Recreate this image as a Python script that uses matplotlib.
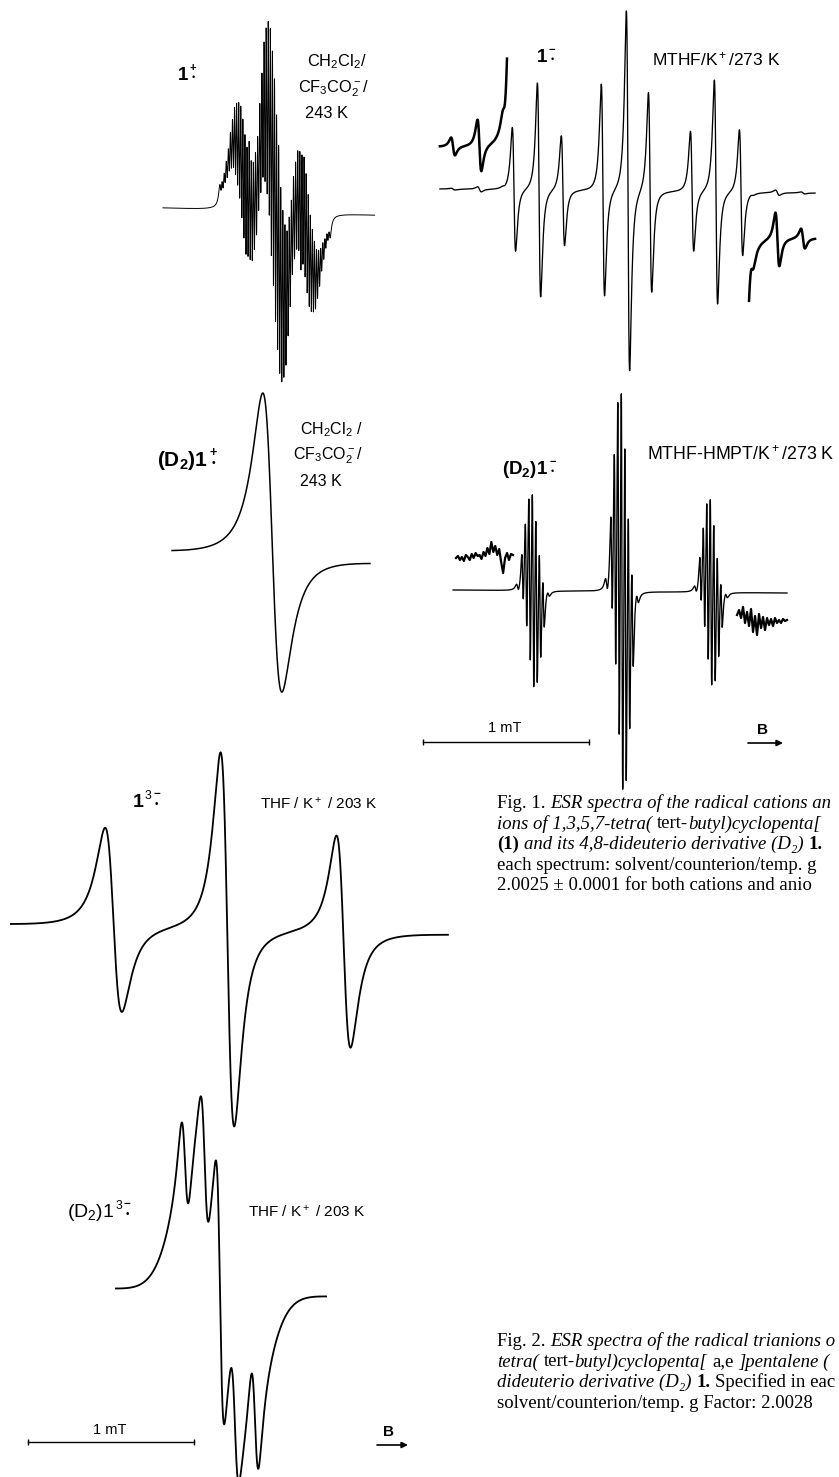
import numpy as np
import matplotlib
matplotlib.use("Agg")
import matplotlib.pyplot as plt

# ======================= DATA =======================
# field offsets in mT from each spectrum's centre; intensities in arbitrary units

# --- Fig.1  1(+.)  CH2Cl2/CF3CO2-/243 K ---
cat_sweep = [-0.675, 0.600]
cat_ring_pos = [-0.178, 0.0, 0.178]
cat_ring_int = [1.0, 2.0, 1.0]
cat_tbu_step = 0.0125
cat_tbu_int = [0.05, 0.08, 0.12, 0.18, 0.25, 0.35, 0.46, 0.59, 0.71, 0.82, 0.92, 0.98, 1.0,
               0.98, 0.92, 0.82, 0.71, 0.59, 0.46, 0.35, 0.25, 0.18, 0.12, 0.08, 0.05]
cat_width = 0.0099
cat_peak_up = 190.0
cat_peak_down = 170.0
cat_base = [0.0, -7.0]

# --- (D2)1(+.) ---
dcat_sweep = [-0.602, 0.590]
dcat_width = 0.099
dcat_amp = 149.0
dcat_abs = 20.0
dcat_base = [4.0, -5.0]

# --- 1(-.)  MTHF/K+/273 K ---
an_sweep = [-1.133, 1.127]
an_pos = [-0.687, -0.536, -0.392, -0.151, 0.0, 0.133, 0.386, 0.530, 0.681]
an_amp = [62.0, 107.0, 55.0, 106.0, 180.0, 100.0, 60.0, 112.0, 63.0]
an_width = 0.017
an_base = [2.0, -2.0]
an_sat_pos = [-1.054, -0.895, -0.747, 0.747, 0.900, 1.054]
an_sat_amp = [0.9, 2.6, 0.9, 0.9, 2.7, 1.0]
an_sat_width = 0.02
an_gain = 10.0
an_inset_l = [-1.133, -0.729]
an_inset_r = [0.729, 1.127]

# --- (D2)1(-.)  MTHF-HMPT/K+/273 K ---
dan_sweep = [-1.018, 0.994]
dan_grp_pos = [-0.536, 0.0, 0.536]
dan_grp_amp = [114.0, 235.0, 110.0]
dan_sub_step = 0.021
dan_sub_int = [0.25, 0.55, 0.85, 1.0, 0.85, 0.55, 0.25]
dan_width = 0.0085
dan_sat_pos = [-0.629, -0.443, -0.093, 0.093, 0.443, 0.629]
dan_sat_amp = [4.0, 3.0, 8.0, 6.0, 4.0, 3.0]
dan_sat_width = 0.012
dan_base = [1.0, -2.0]
dan_noise_l_sweep = [-1.000, -0.657]
dan_noise_l = [0, 2, -2, 1, -3, 3, 1, -2, 4, 0, 5, 2, 3, -1, 6, 2, 10, 4, 16, 6,
               12, 3, 9, -4, -15, 0, 5, -2, 4, 3]
dan_noise_r_sweep = [0.693, 0.994]
dan_noise_r = [5, 10, 2, 13, -3, 8, -6, 11, -12, 4, -15, 6, -8, 3, -10, 2, -5, 1,
               -6, 2, -3, 0, -3, 1, -1, 0]

# --- Fig.2  1(3-.)  THF/K+/203 K ---
tri_sweep = [-1.305, 1.328]
tri_pos = [-0.688, 0.0, 0.700]
tri_amp = [92.0, 187.0, 106.0]
tri_width = [0.087, 0.071, 0.073]
tri_abs = [9.0, -13.0, -12.0]
tri_base = [4.0, -5.0]

# --- (D2)1(3-.) ---
dtri_sweep = [-0.627, 0.639]
dtri_pos = [-0.211, -0.093, 0.0, 0.090, 0.211]
dtri_amp = [55.0, 60.0, 110.0, 55.0, 62.0]
dtri_width = 0.039
dtri_env_amp = 140.0
dtri_env_sigma = 0.15
dtri_base = [3.0, -4.0]

scale_bar_mT = 1.0

# ======================= helpers =======================
W, H = 839, 1477
PX_PER_MT = 166.0
DMAX = 3 * np.sqrt(3) / 16

plt.rcParams['mathtext.fontset'] = 'custom'
plt.rcParams['mathtext.rm'] = 'Liberation Sans'
plt.rcParams['mathtext.it'] = 'Liberation Sans:italic'
plt.rcParams['mathtext.bf'] = 'Liberation Sans:bold'
SANS = ['Liberation Sans', 'DejaVu Sans']
SERIF = ['Liberation Serif', 'DejaVu Serif']

fig = plt.figure(figsize=(W / 100, H / 100), dpi=100)
fig.patch.set_facecolor('white')
renderer = fig.canvas.get_renderer()

tax = fig.add_axes([0, 0, 1, 1])
tax.set_xlim(0, W)
tax.set_ylim(H, 0)
tax.axis('off')


def dlor(B, B0, w):
    u = (B - B0) / w
    return -u / (1 + u ** 2) ** 2 / DMAX


def alor(B, B0, w):
    u = (B - B0) / w
    return 1.0 / (1 + u ** 2)


def dgauss(B, B0, s):
    u = (B - B0) / s
    return -u * np.exp(-(u ** 2 - 1) / 2)


def field_axes(center_px, base_px):
    ax = fig.add_axes([0, 0, 1, 1])
    ax.set_xlim(-center_px / PX_PER_MT, (W - center_px) / PX_PER_MT)
    ax.set_ylim(-(H - base_px), base_px)
    ax.axis('off')
    ax.patch.set_alpha(0)
    return ax


def baseline(B, sweep, base):
    return np.interp(B, sweep, base)


def deriv_sum(B, pos, amp, width):
    y = np.zeros_like(B)
    ws = width if np.ndim(width) else [width] * len(pos)
    for p, a, w in zip(pos, amp, ws):
        y += a * dlor(B, p, w)
    return y


LW = 0.95

# ---- 1(+.) ----
ax = field_axes(275, 208)
B = np.linspace(cat_sweep[0], cat_sweep[1], 14000)
raw_d = np.zeros_like(B)
raw_a = np.zeros_like(B)
nt = len(cat_tbu_int)
for rp, ri in zip(cat_ring_pos, cat_ring_int):
    for k, ti in enumerate(cat_tbu_int):
        p = rp + (k - (nt - 1) / 2) * cat_tbu_step
        raw_d += ri * ti * dlor(B, p, cat_width)
        raw_a += ri * ti * alor(B, p, cat_width)
raw_a *= raw_d.max() / raw_a.max()
lo, hi = 0.0, 0.5
for _ in range(40):   # phase admixture giving the observed up/down ratio
    ph = 0.5 * (lo + hi)
    yy = raw_d + ph * raw_a
    if yy.max() / -yy.min() < cat_peak_up / cat_peak_down:
        lo = ph
    else:
        hi = ph
yy = raw_d + 0.5 * (lo + hi) * raw_a
y = yy / yy.max() * cat_peak_up + baseline(B, cat_sweep, cat_base)
ax.plot(B, y, color='black', lw=0.7)

# ---- (D2)1(+.) ----
ax = field_axes(272, 557)
B = np.linspace(dcat_sweep[0], dcat_sweep[1], 3000)
y = dcat_amp * dlor(B, 0.0, dcat_width) + dcat_abs * alor(B, 0.0, dcat_width) \
    + baseline(B, dcat_sweep, dcat_base)
ax.plot(B, y, color='black', lw=1.1)

# ---- 1(-.) ----
ax = field_axes(628, 191)


def an_spec(B):
    return deriv_sum(B, an_pos, an_amp, an_width) + \
        deriv_sum(B, an_sat_pos, an_sat_amp, an_sat_width)


B = np.linspace(an_sweep[0], an_sweep[1], 12000)
ax.plot(B, an_spec(B) + baseline(B, an_sweep, an_base), color='black', lw=LW)
Bl = np.linspace(an_inset_l[0], an_inset_l[1], 1500)
ax.plot(Bl, an_gain * an_spec(Bl) + 44, color='black', lw=1.8)
Br = np.linspace(an_inset_r[0], an_inset_r[1], 1500)
ax.plot(Br, an_gain * an_spec(Br) - 47, color='black', lw=1.8)

# ---- (D2)1(-.) ----
ax_dan = field_axes(622, 591)
B = np.linspace(dan_sweep[0], dan_sweep[1], 16000)
y = np.zeros_like(B)
ns = len(dan_sub_int)
for gp, ga in zip(dan_grp_pos, dan_grp_amp):
    for k, si in enumerate(dan_sub_int):
        y += ga * si * dlor(B, gp + (k - (ns - 1) / 2) * dan_sub_step, dan_width)
y += deriv_sum(B, dan_sat_pos, dan_sat_amp, dan_sat_width)
ax_dan.plot(B, y + baseline(B, dan_sweep, dan_base), color='black', lw=LW)
Bn = np.linspace(dan_noise_l_sweep[0], dan_noise_l_sweep[1], len(dan_noise_l))
ax_dan.plot(Bn, np.array(dan_noise_l) + 33, color='black', lw=1.6)
Bn = np.linspace(dan_noise_r_sweep[0], dan_noise_r_sweep[1], len(dan_noise_r))
ax_dan.plot(Bn, np.array(dan_noise_r) - 29, color='black', lw=1.6)
# scale bar Fig.1
x0 = -1.199
ax_dan.plot([x0, x0 + scale_bar_mT], [-151, -151], color='black', lw=1.0)
ax_dan.plot([x0, x0 + scale_bar_mT], [-151, -151], ls='none', marker='|',
            ms=5, mew=1.0, color='black')

# ---- 1(3-.) ----
ax = field_axes(227.5, 929)
B = np.linspace(tri_sweep[0], tri_sweep[1], 6000)
y = deriv_sum(B, tri_pos, tri_amp, tri_width)
for p, c, w in zip(tri_pos, tri_abs, tri_width):
    y += c * alor(B, p, w)
ax.plot(B, y + baseline(B, tri_sweep, tri_base), color='black', lw=1.3)

# ---- (D2)1(3-.) ----
ax_dt = field_axes(220, 1292)
B = np.linspace(dtri_sweep[0], dtri_sweep[1], 5000)
y = deriv_sum(B, dtri_pos, dtri_amp, dtri_width) + \
    dtri_env_amp * dgauss(B, 0.0, dtri_env_sigma)
ax_dt.plot(B, y + baseline(B, dtri_sweep, dtri_base), color='black', lw=1.3)
x0 = -1.157
ax_dt.plot([x0, x0 + scale_bar_mT], [-150, -150], color='black', lw=1.0)
ax_dt.plot([x0, x0 + scale_bar_mT], [-150, -150], ls='none', marker='|',
           ms=5, mew=1.0, color='black')

# ======================= text =======================


def twidth(t):
    return t.get_window_extent(renderer).width


def ion_label(x, y, main, charge, three=False, size=15, weight='bold'):
    t = tax.text(x, y, main, fontsize=size, fontweight=weight, family=SANS,
                 va='baseline', ha='left')
    xx = x + twidth(t) + 1
    em = size * 100 / 72
    if three:
        t3 = tax.text(xx, y - 0.42 * em, '3', fontsize=size * 0.62, family=SANS,
                      va='baseline', ha='left')
        xx += twidth(t3) + 1
    cx = xx + 0.2 * em
    tax.text(cx, y - 0.5 * em, charge, fontsize=size * 0.6, fontweight='bold',
             family=SANS, ha='center', va='baseline')
    tax.text(cx, y - 0.02 * em, '\u2022', fontsize=size * 0.5, family=SANS,
             ha='center', va='baseline')


ion_label(178, 80, '1', '+', size=13.5)
ion_label(157, 466, r'(D$_\mathbf{2}$)1', '+', size=15)
ion_label(537, 62, '1', '\u2212', size=13.5)
ion_label(502, 474, r'(D$_\mathbf{2}$)1', '\u2212', size=13.5)
ion_label(133, 807, '1', '\u2212', three=True, size=14)
ion_label(67, 1217, r'(D$_\mathrm{2}$)1', '\u2212', three=True, size=14, weight='normal')

for (x, yy, s) in [(307, 62, r'CH$_2$Cl$_2$/'), (298, 89, r'CF$_3$CO$_2^-$/'),
                   (305, 114, '243 K')]:
    tax.text(x, yy, s, fontsize=11.8, family=SANS, va='center', ha='left')
for (x, yy, s) in [(300, 430, r'CH$_2$Cl$_2$ /'), (293, 456, r'CF$_3$CO$_2^-$/'),
                   (300, 482, '243 K')]:
    tax.text(x, yy, s, fontsize=11.5, family=SANS, va='center', ha='left')
tax.text(652, 59, r'MTHF/K$^+$/273 K', fontsize=12.5, family=SANS, va='center')
tax.text(647, 455, r'MTHF-HMPT/K$^+$/273 K', fontsize=12.8, family=SANS, va='center')
tax.text(260, 804, r'THF / K$^+$ / 203 K', fontsize=11, family=SANS, va='center')
tax.text(248, 1212, r'THF / K$^+$ / 203 K', fontsize=11, family=SANS, va='center')

# scale-bar labels and field arrows
tax.text(505, 728, '1 mT', fontsize=10.5, family=SANS, ha='center', va='center')
tax.text(110, 1430, '1 mT', fontsize=10.5, family=SANS, ha='center', va='center')
for (xa, xb, ya, xt) in [(748, 783, 743, 763), (377, 408, 1445, 389)]:
    tax.annotate('', xy=(xb, ya), xytext=(xa, ya),
                 arrowprops=dict(arrowstyle='-|>', color='black', lw=1.2,
                                 mutation_scale=9, shrinkA=0, shrinkB=0))
    tax.text(xt, ya - 13, 'B', fontsize=11, fontweight='bold', family=SANS,
             ha='center', va='center')

# captions


def draw_runs(x, y, runs, size=13.5):
    for txt, style, weight in runs:
        probe1 = tax.text(0, 0, 'x x', fontsize=size, family=SERIF, style=style)
        probe2 = tax.text(0, 0, 'xx', fontsize=size, family=SERIF, style=style)
        spw = twidth(probe1) - twidth(probe2)
        probe1.remove()
        probe2.remove()
        lead = len(txt) - len(txt.lstrip(' '))
        trail = len(txt) - len(txt.rstrip(' '))
        core = txt.strip(' ')
        x += lead * spw
        t = tax.text(x, y, core, fontsize=size, family=SERIF, style=style,
                     fontweight=weight, va='baseline', ha='left', clip_on=True)
        x += twidth(t) + trail * spw


N, I, Bd = 'normal', 'italic', 'bold'
cap1 = [
    [("Fig. 1.", N, N), (" ESR spectra of the radical cations an", I, N)],
    [("ions of 1,3,5,7-tetra(", I, N), (" tert-", N, N), ("butyl)cyclopenta[", I, N)],
    [("(1)", N, Bd), (" and its 4,8-dideuterio derivative (D\u2082)", I, N), (" 1.", N, Bd)],
    [("each spectrum: solvent/counterion/temp. g", N, N)],
    [("2.0025 \u00b1 0.0001 for both cations and anio", N, N)],
]
cap2 = [
    [("Fig. 2.", N, N), (" ESR spectra of the radical trianions o", I, N)],
    [("tetra(", I, N), (" tert-", N, N), ("butyl)cyclopenta[", I, N), (" a,e", N, N),
     (" ]pentalene (", I, N)],
    [("dideuterio derivative (D\u2082)", I, N), (" 1.", N, Bd), (" Specified in eac", N, N)],
    [("solvent/counterion/temp. g Factor: 2.0028", N, N)],
]
for i, runs in enumerate(cap1):
    draw_runs(497, 808 + 20.5 * i, runs)
for i, runs in enumerate(cap2):
    draw_runs(497, 1346 + 20.5 * i, runs)

fig.savefig('out.png', dpi=100, facecolor='white')
